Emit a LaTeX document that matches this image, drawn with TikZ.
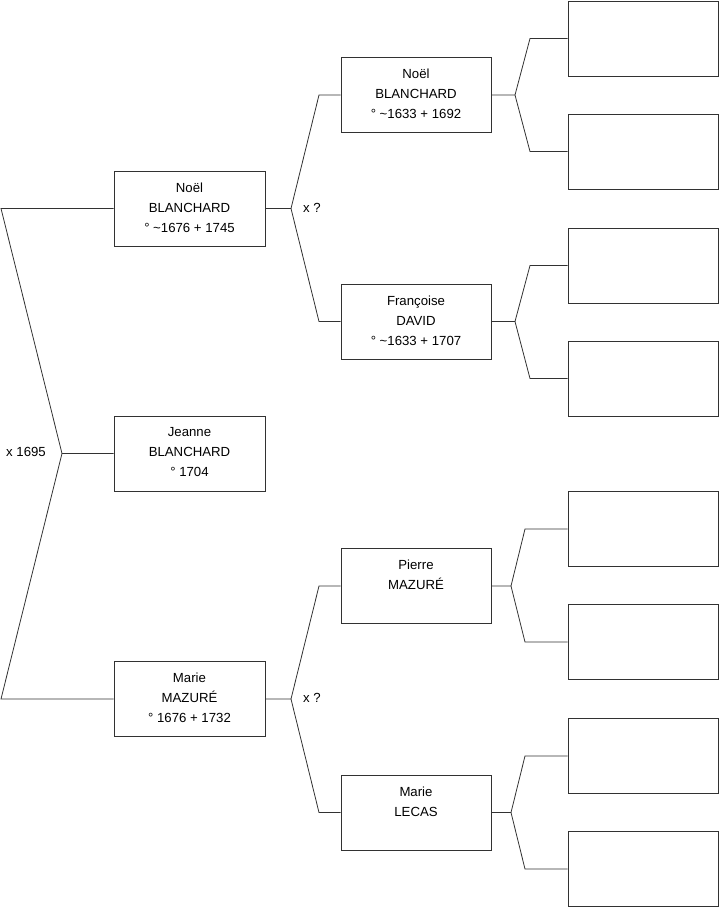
\documentclass[tikz,border=0pt]{standalone}
\usepackage{fontspec}
\setmainfont{Liberation Sans}
\usepackage{tikz}
\usetikzlibrary{positioning,calc}
\definecolor{lineslate}{RGB}{50, 50, 50}

\tikzset{
    person/.style={draw=lineslate, line width=0.8pt, minimum width=151pt, minimum height=75pt, align=center, inner sep=0pt, font=\fontsize{13.2}{20}\selectfont},
    ancestor/.style={draw=lineslate, line width=0.8pt, minimum width=150pt, minimum height=75pt, inner sep=0pt},
    link/.style={draw=lineslate, line width=0.8pt},
    union/.style={font=\fontsize{13.2}{15}\selectfont}
}

\begin{document}
\begin{tikzpicture}[x=1pt, y=-1pt]
    \useasboundingbox (0,0) rectangle (719,908);

    % Generation 1 and 2
    \node[person] (jeanne) at (189.5,453.5) {Jeanne\\BLANCHARD\\° 1704\vspace{2pt}};
    \node[person] (noel) at (189.5,208.5) {Noël\\BLANCHARD\\° \textasciitilde 1676 + 1745\vspace{2pt}};
    \node[person] (marie) at (189.5,699) {Marie\\MAZURÉ\\° 1676 + 1732\vspace{2pt}};

    % Generation 3
    \node[ancestor, align=center, font=\fontsize{13.2}{20}\selectfont] (noelp) at (416,95) {Noël\\BLANCHARD\\° \textasciitilde 1633 + 1692\vspace{2pt}};
    \node[ancestor, align=center, font=\fontsize{13.2}{20}\selectfont] (francoise) at (416,321.5) {Françoise\\DAVID\\° \textasciitilde 1633 + 1707\vspace{2pt}};
    \node[ancestor, align=center, font=\fontsize{13.2}{20}\selectfont] (pierre) at (416,586) {Pierre\\MAZURÉ\\\mbox{}\vspace{2pt}};
    \node[ancestor, align=center, font=\fontsize{13.2}{20}\selectfont] (mariel) at (416,812.5) {Marie\\LECAS\\\mbox{}\vspace{2pt}};

    % Generation 4 (empty)
    \node[ancestor] (g4a) at (643,38.5) {};
    \node[ancestor] (g4b) at (643,151.5) {};
    \node[ancestor] (g4c) at (643,265.5) {};
    \node[ancestor] (g4d) at (643,378.5) {};
    \node[ancestor] (g4e) at (643,529) {};
    \node[ancestor] (g4f) at (643,642) {};
    \node[ancestor] (g4g) at (643,756) {};
    \node[ancestor] (g4h) at (643,869) {};

    % Fork points
    \coordinate (f1) at (62,453.5);
    \coordinate (f1a) at (1,208.5);
    \coordinate (f1b) at (1,699);
    \coordinate (f2) at (291,208.5);
    \coordinate (f2a) at (319,95);
    \coordinate (f2b) at (319,321.5);
    \coordinate (f3) at (291,699);
    \coordinate (f3a) at (319,586);
    \coordinate (f3b) at (319,812.5);
    \coordinate (f4) at (515,95);
    \coordinate (f4a) at (530,38.5);
    \coordinate (f4b) at (530,151.5);
    \coordinate (f5) at (515,321.5);
    \coordinate (f5a) at (530,265.5);
    \coordinate (f5b) at (530,378.5);
    \coordinate (f6) at (511,586);
    \coordinate (f6a) at (525,529);
    \coordinate (f6b) at (525,642);
    \coordinate (f7) at (511,812.5);
    \coordinate (f7a) at (525,756);
    \coordinate (f7b) at (525,869);

    % Connectors
    \draw[link] (jeanne.west) -- (f1) -- (f1a) -- (noel.west);
    \draw[link] (f1) -- (f1b) -- (marie.west);
    \draw[link] (noel.east) -- (f2) -- (f2a) -- (noelp.west);
    \draw[link] (f2) -- (f2b) -- (francoise.west);
    \draw[link] (marie.east) -- (f3) -- (f3a) -- (pierre.west);
    \draw[link] (f3) -- (f3b) -- (mariel.west);
    \draw[link] (noelp.east) -- (f4) -- (f4a) -- (g4a.west);
    \draw[link] (f4) -- (f4b) -- (g4b.west);
    \draw[link] (francoise.east) -- (f5) -- (f5a) -- (g4c.west);
    \draw[link] (f5) -- (f5b) -- (g4d.west);
    \draw[link] (pierre.east) -- (f6) -- (f6a) -- (g4e.west);
    \draw[link] (f6) -- (f6b) -- (g4f.west);
    \draw[link] (mariel.east) -- (f7) -- (f7a) -- (g4g.west);
    \draw[link] (f7) -- (f7b) -- (g4h.west);

    % Marriage labels
    \node[union] (u1) at (26,452) {x 1695};
    \node[union] (u2) at (312,207.5) {x ?};
    \node[union] (u3) at (312,698) {x ?};
\end{tikzpicture}
\end{document}
